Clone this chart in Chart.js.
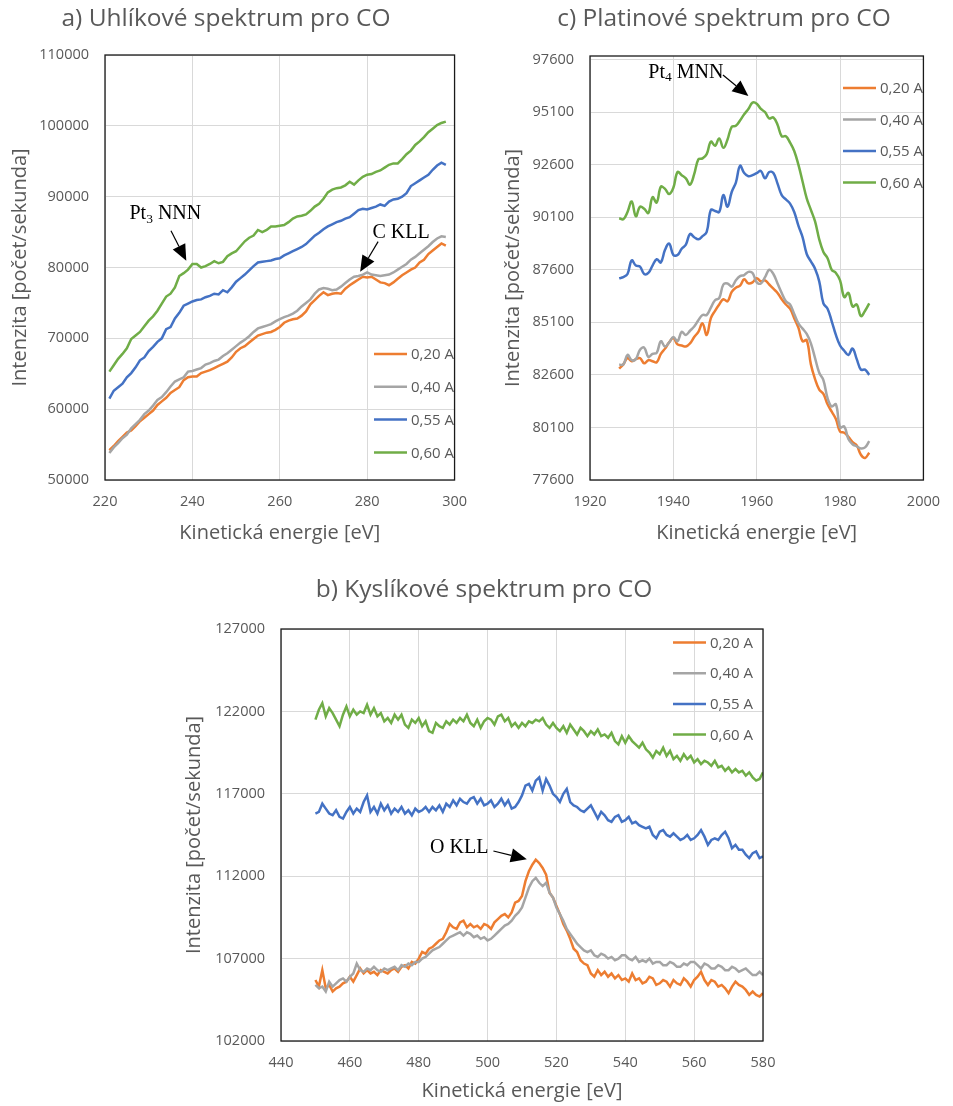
<!DOCTYPE html>
<html>
<head>
<meta charset="utf-8">
<title>Spektra pro CO</title>
<script src="https://cdn.jsdelivr.net/npm/chart.js@4.4.1/dist/chart.umd.min.js"></script>
<style>
  body { margin: 0; background: #fff; }
  #obal { position: relative; width: 953px; height: 1106px; }
  canvas { position: absolute; }
</style>
</head>
<body>
<div id="obal">
  <canvas id="grafA" width="480" height="560" style="left:0;top:0;width:480px;height:560px"></canvas>
  <canvas id="grafC" width="473" height="560" style="left:480px;top:0;width:473px;height:560px"></canvas>
  <canvas id="grafB" width="640" height="546" style="left:160px;top:560px;width:640px;height:546px"></canvas>
</div>
<script>
// nazvy serii a barvy (Excel)
var serie = ["0,20 A", "0,40 A", "0,55 A", "0,60 A"];
var barvy = ["#ED7D31", "#A5A5A5", "#4472C4", "#70AD47"];

// a) uhlikove spektrum, 221 .. 298 eV po 1 eV
var energieA = rozsah(221, 298);
var uhlik020 = [54200, 54800, 55500, 56100, 56700, 57000, 57600, 58300, 58800, 59300,
    59800, 60600, 61100, 61600, 62300, 62700, 63100, 64100, 64500, 64600,
    64600, 65100, 65300, 65500, 65800, 66100, 66400, 66700, 67300, 68100,
    68600, 68900, 69400, 69900, 70400, 70600, 70800, 70900, 71200, 71600,
    72200, 72500, 72700, 72800, 73200, 73800, 74800, 75400, 76000, 76500,
    76100, 76300, 76400, 76300, 77000, 77500, 77900, 78300, 78700, 78600,
    78700, 78300, 77900, 77800, 77500, 77900, 78400, 78900, 79300, 79700,
    80000, 80700, 81100, 81900, 82400, 82900, 83400, 83100];
var uhlik040 = [53800, 54600, 55200, 55900, 56400, 57300, 57900, 58500, 59300, 59800,
    60500, 61300, 61700, 62400, 63200, 63900, 64200, 64500, 65300, 65400,
    65600, 65800, 66300, 66500, 66800, 67000, 67500, 67900, 68400, 68900,
    69400, 69800, 70300, 70900, 71400, 71600, 71800, 72000, 72400, 72700,
    73000, 73200, 73500, 73900, 74500, 75000, 75500, 76300, 76900, 77100,
    77000, 76800, 76900, 77300, 77800, 78300, 78700, 78800, 79000, 79300,
    79000, 78900, 78800, 78900, 79000, 79300, 79700, 80100, 80500, 81100,
    81500, 82000, 82500, 83000, 83600, 84100, 84400, 84300];
var uhlik055 = [61500, 62600, 63100, 63600, 64500, 65100, 65900, 66900, 67300, 68200,
    68800, 69500, 70000, 71300, 71600, 72800, 73600, 74600, 74900, 75200,
    75400, 75500, 75800, 76000, 76300, 76200, 76800, 76500, 77200, 78000,
    78500, 79000, 79600, 80200, 80700, 80800, 80900, 81000, 81200, 81300,
    81700, 82000, 82300, 82600, 82900, 83300, 83900, 84500, 84900, 85400,
    85800, 86100, 86400, 86600, 86900, 87100, 87600, 88100, 88300, 88200,
    88400, 88600, 88900, 88700, 89300, 89600, 89700, 90000, 90500, 91500,
    91900, 92300, 92700, 93100, 93800, 94400, 94800, 94500];
var uhlik060 = [65300, 66200, 67100, 67800, 68600, 69900, 70400, 70900, 71700, 72500,
    73100, 73900, 74900, 75900, 76300, 77200, 78800, 79200, 79700, 80500,
    80500, 80000, 80200, 80500, 80900, 80600, 80800, 81600, 82000, 82300,
    83000, 83700, 84200, 84500, 85300, 85000, 85300, 85800, 85800, 85900,
    86000, 86400, 86900, 87200, 87300, 87500, 88000, 88600, 89000, 89700,
    90600, 91000, 91200, 91300, 91600, 92100, 91700, 92300, 92800, 93100,
    93200, 93500, 93700, 94100, 94500, 94700, 94700, 95300, 96000, 96500,
    97300, 97800, 98400, 99100, 99600, 100100, 100400, 100600];
var xTickyA = [220, 240, 260, 280, 300];
var yTickyA = [50000, 60000, 70000, 80000, 90000, 100000, 110000];

// c) platinove spektrum, 1927 .. 1987 eV po 1 eV
var energieC = rozsah(1927, 1987);
var platina020 = [82900, 83100, 83400, 83250, 83350, 83400, 83150, 83300, 83250, 83200,
    83600, 83850, 84150, 84350, 84050, 84000, 83950, 84100, 84400, 84650,
    85050, 84500, 85300, 85650, 85950, 86200, 86100, 86550, 86750, 86850,
    87150, 86950, 87000, 87200, 87050, 87100, 86900, 86700, 86500, 86200,
    85950, 85750, 85300, 84850, 84200, 84250, 83100, 82400, 81900, 81700,
    81200, 80850, 80500, 79900, 79850, 79650, 79400, 79250, 78800, 78650,
    78900];
var platina040 = [83080, 83100, 83550, 83300, 83350, 83800, 83900, 83450, 83600, 83650,
    84200, 83950, 84150, 84400, 84200, 84650, 84500, 84700, 84900, 85200,
    85450, 85450, 85800, 86150, 86250, 86900, 86950, 86800, 87100, 87300,
    87350, 87500, 87450, 87000, 86950, 87250, 87600, 87400, 86950, 86500,
    86100, 85950, 85500, 85050, 84800, 84550, 84100, 83400, 82700, 82350,
    81500, 81100, 81200, 80100, 80150, 79550, 79300, 79200, 79100, 79150,
    79450];
var platina055 = [87200, 87250, 87400, 88050, 87800, 87750, 87400, 87450, 87800, 88100,
    87950, 88550, 88850, 88300, 88300, 88600, 88800, 89300, 89150, 89050,
    89200, 89400, 90450, 90400, 90350, 91150, 90600, 91300, 91750, 92550,
    92200, 92050, 92100, 92200, 92300, 91950, 92250, 92200, 91700, 91150,
    90950, 90750, 90350, 89700, 89150, 88350, 88000, 87650, 87050, 86000,
    85750, 85150, 84500, 84000, 83750, 83550, 83850, 83350, 82850, 82850,
    82600];
var platina060 = [90050, 90000, 90350, 90850, 90150, 90600, 90500, 90300, 91050, 90800,
    91550, 91450, 91200, 91500, 92250, 92100, 91950, 91650, 92150, 92850,
    92900, 93100, 93700, 93500, 93850, 93400, 93800, 94400, 94450, 94700,
    95000, 95250, 95550, 95500, 95250, 95100, 94800, 94850, 94500, 93950,
    93950, 93650, 93250, 92600, 91800, 91000, 90450, 89900, 89050, 88450,
    88150, 87600, 87450, 87100, 86300, 86500, 85850, 85950, 85400, 85650,
    86000];
var xTickyC = [1920, 1940, 1960, 1980, 2000];
var yTickyC = [77600, 80100, 82600, 85100, 87600, 90100, 92600, 95100, 97600];

// b) kyslikove spektrum, 450 .. 580 eV po 1 eV
var energieB = rozsah(450, 580);
var kyslik020 = [105700, 105300, 106300, 105200, 105400, 105000, 105200, 105300, 105500, 105600,
    105900, 105600, 106000, 106400, 106100, 106300, 106100, 106200, 106000, 106300,
    106200, 106100, 106300, 106400, 106200, 106500, 106600, 106400, 106800, 106700,
    107000, 107400, 107300, 107600, 107700, 107900, 108100, 108200, 108600, 109100,
    108900, 108800, 109200, 109300, 108900, 109100, 108900, 109000, 108800, 109100,
    109000, 108800, 109200, 109400, 109600, 109700, 109500, 109800, 110400, 110500,
    110800, 111700, 112300, 112700, 113000, 112800, 112500, 112100, 111000, 110700,
    110200, 109700, 109100, 108700, 108200, 107600, 107400, 106900, 106700, 106600,
    106100, 105900, 106300, 106000, 106200, 105900, 106100, 105800, 106000, 105700,
    105800, 105600, 106100, 105700, 105800, 105500, 105600, 105900, 105800, 105400,
    105500, 105700, 105600, 105300, 105700, 105500, 105400, 105800, 105600, 105300,
    105700, 105900, 106200, 105700, 105400, 105700, 105600, 105300, 105400, 105200,
    104900, 105300, 105600, 105400, 105300, 105100, 104800, 105000, 104800, 104700,
    104900];
var kyslik040 = [105400, 105200, 105300, 105000, 105600, 105300, 105500, 105700, 105800, 105600,
    105900, 106100, 106700, 106300, 106200, 106400, 106300, 106500, 106300, 106200,
    106400, 106300, 106400, 106500, 106300, 106600, 106500, 106700, 106600, 106800,
    106800, 107000, 107100, 107300, 107500, 107600, 107700, 107900, 108100, 108300,
    108400, 108500, 108600, 108400, 108600, 108500, 108300, 108400, 108200, 108300,
    108100, 108200, 108400, 108600, 108800, 109000, 109100, 109300, 109600, 109800,
    110100, 110700, 111300, 111700, 111900, 111600, 111400, 111600, 111000, 110700,
    110100, 109700, 109300, 108800, 108500, 108200, 107900, 107700, 107500, 107400,
    107500, 107200, 107100, 107300, 107200, 107000, 107100, 106900, 107000, 107200,
    107200, 107000, 106900, 107100, 106800, 106900, 106800, 107000, 106700, 106800,
    106800, 106600, 106600, 106800, 106700, 106500, 106500, 106700, 106600, 106800,
    106800, 106600, 106400, 106700, 106600, 106400, 106400, 106600, 106500, 106300,
    106300, 106500, 106400, 106200, 106300, 106400, 106200, 106000, 106000, 106200,
    106000];
var kyslik055 = [115800, 115900, 116400, 116100, 115800, 115700, 116000, 115600, 115500, 115900,
    116200, 115800, 116100, 115900, 116500, 116900, 115900, 116200, 115800, 116400,
    116000, 116300, 115800, 116100, 115900, 116200, 115800, 116000, 115700, 116100,
    115900, 116000, 116200, 115900, 116200, 116000, 116300, 115900, 116400, 116200,
    116600, 116300, 116700, 116500, 116400, 116700, 116800, 116400, 116700, 116300,
    116400, 116600, 116200, 116400, 116700, 116300, 116600, 116100, 116200, 116500,
    116900, 117500, 117600, 117200, 117800, 118000, 117200, 117900, 117500, 117000,
    116800, 116500, 117000, 117300, 116500, 116300, 116200, 116000, 115900, 116100,
    116300, 115900, 115500, 115900, 115700, 115400, 115300, 115600, 115700, 115300,
    115400, 115600, 115200, 115300, 115100, 115000, 114900, 115000, 114500, 114300,
    114700, 114800, 114500, 114400, 114600, 114400, 114200, 114300, 114500, 114200,
    114300, 114500, 114800, 114400, 113900, 114200, 114300, 114200, 114500, 114700,
    114300, 113700, 113900, 113600, 113600, 113300, 113100, 113400, 113500, 113100,
    113200];
var kyslik060 = [121500, 122100, 122500, 121700, 122200, 121900, 121500, 121100, 121800, 122300,
    121700, 122100, 121800, 122000, 121900, 122400, 121800, 122200, 121700, 121900,
    121400, 121600, 121300, 121800, 121500, 121800, 121200, 121000, 121500, 121300,
    121600, 121100, 121400, 120800, 120700, 121300, 121100, 121000, 121400, 121200,
    121500, 121300, 121600, 121400, 121800, 121300, 121100, 121500, 121000, 121400,
    121600, 121500, 121200, 121700, 121800, 121400, 121600, 121100, 121300, 121000,
    121300, 121100, 121400, 121300, 121500, 121400, 121600, 121200, 121000, 121300,
    121000, 120800, 121100, 120700, 121200, 120900, 120600, 121000, 120800, 120500,
    120800, 120600, 120900, 120500, 120600, 120400, 120700, 120200, 120000, 120500,
    120100, 120500, 120200, 120000, 119800, 120100, 119700, 119500, 119200, 119600,
    119400, 119800, 119300, 119600, 119100, 119300, 119000, 119400, 119100, 119300,
    118900, 119100, 118800, 119000, 118900, 118700, 119000, 118600, 118700, 118400,
    118600, 118300, 118500, 118300, 118400, 118100, 118300, 118000, 117800, 117900,
    118300];
var xTickyB = [440, 460, 480, 500, 520, 540, 560, 580];
var yTickyB = [102000, 107000, 112000, 117000, 122000, 127000];

function rozsah(od, po) {
    var out = [];
    for (var e = od; e <= po; e++) out.push(e);
    return out;
}

function body(energie, hodnoty) {
    return energie.map(function (e, i) { return { x: e, y: hodnoty[i] }; });
}

// sipka s plnou hlavou
function sipka(ctx, x1, y1, x2, y2) {
    var a = Math.atan2(y2 - y1, x2 - x1);
    var delka = 16, sirka = 7;
    var bx = x2 - delka * Math.cos(a), by = y2 - delka * Math.sin(a);
    ctx.strokeStyle = "#000";
    ctx.fillStyle = "#000";
    ctx.lineWidth = 1.2;
    ctx.beginPath();
    ctx.moveTo(x1, y1);
    ctx.lineTo(bx, by);
    ctx.stroke();
    ctx.beginPath();
    ctx.moveTo(x2, y2);
    ctx.lineTo(bx + sirka * Math.sin(a), by - sirka * Math.cos(a));
    ctx.lineTo(bx - sirka * Math.sin(a), by + sirka * Math.cos(a));
    ctx.closePath();
    ctx.fill();
}

// ramecek, nadpis, legenda a popisky piku
var dekorace = {
    id: "dekorace",
    afterDraw: function (chart, args, opts) {
        var ctx = chart.ctx, ca = chart.chartArea;
        var sx = chart.scales.x, sy = chart.scales.y;
        ctx.save();

        ctx.strokeStyle = "#1a1a1a";
        ctx.lineWidth = 1.3;
        ctx.strokeRect(ca.left, ca.top, ca.right - ca.left, ca.bottom - ca.top);

        ctx.fillStyle = "#595959";
        ctx.font = '24.5px "Open Sans"';
        ctx.textAlign = "center";
        ctx.textBaseline = "middle";
        ctx.fillText(opts.nadpis, opts.nadpisX, opts.nadpisY);

        ctx.font = '15px "Open Sans"';
        ctx.textAlign = "left";
        chart.data.datasets.forEach(function (ds, i) {
            var y = opts.legendaY + i * opts.legendaKrok;
            ctx.strokeStyle = ds.borderColor;
            ctx.lineWidth = 2.5;
            ctx.beginPath();
            ctx.moveTo(opts.legendaX, y);
            ctx.lineTo(opts.legendaX + 33, y);
            ctx.stroke();
            ctx.fillStyle = "#595959";
            ctx.fillText(ds.label, opts.legendaX + 37, y + 1);
        });

        opts.popisky.forEach(function (p) {
            var x = sx.getPixelForValue(p.x), y = sy.getPixelForValue(p.y);
            ctx.fillStyle = "#000";
            ctx.textBaseline = "middle";
            ctx.font = '20px "Liberation Serif"';
            ctx.fillText(p.text, x, y);
            x += ctx.measureText(p.text).width;
            if (p.index) {
                ctx.font = '13.5px "Liberation Serif"';
                ctx.fillText(p.index, x, y + 5);
                x += ctx.measureText(p.index).width;
                ctx.font = '20px "Liberation Serif"';
                ctx.fillText(p.zbytek, x, y);
            }
            sipka(ctx, sx.getPixelForValue(p.odX), sy.getPixelForValue(p.odY),
                sx.getPixelForValue(p.doX), sy.getPixelForValue(p.doY));
        });
        ctx.restore();
    }
};

function vytvorGraf(id, nastaveni) {
    var font = { family: "Open Sans", size: 14.5 };
    var titulek = { family: "Open Sans", size: 20 };
    var datasets = nastaveni.hodnoty.map(function (h, i) {
        return {
            label: serie[i],
            data: body(nastaveni.energie, h),
            borderColor: barvy[i],
            backgroundColor: barvy[i],
            borderWidth: 2.5,
            pointRadius: 0,
            tension: nastaveni.tension,
            fill: false,
            order: 4 - i
        };
    });

    return new Chart(document.getElementById(id), {
        type: "line",
        data: { datasets: datasets },
        plugins: [dekorace],
        options: {
            responsive: false,
            animation: false,
            devicePixelRatio: 1,
            layout: { padding: nastaveni.padding },
            plugins: {
                legend: { display: false },
                tooltip: { enabled: false },
                dekorace: nastaveni.dekorace
            },
            scales: {
                x: {
                    type: "linear",
                    min: nastaveni.xMin,
                    max: nastaveni.xMax,
                    afterBuildTicks: function (s) { s.ticks = nastaveni.xTicky.map(function (v) { return { value: v }; }); },
                    ticks: { color: "#595959", font: font, padding: 13, maxRotation: 0, autoSkip: false,
                        callback: function (v) { return String(v); } },
                    grid: { color: "#D9D9D9", lineWidth: 1, drawTicks: false },
                    border: { display: false },
                    title: { display: true, text: "Kinetická energie [eV]", color: "#595959", font: titulek,
                        padding: { top: 0, bottom: nastaveni.xTitulekOdsazeni } },
                    afterFit: function (s) { s.height = nastaveni.xVyska; }
                },
                y: {
                    type: "linear",
                    min: nastaveni.yMin,
                    max: nastaveni.yMax,
                    afterBuildTicks: function (s) { s.ticks = nastaveni.yTicky.map(function (v) { return { value: v }; }); },
                    ticks: { color: "#595959", font: font, padding: 16, autoSkip: false,
                        callback: function (v) { return String(v); } },
                    grid: { color: "#D9D9D9", lineWidth: 1, drawTicks: false },
                    border: { display: false },
                    title: { display: true, text: "Intenzita [počet/sekunda]", color: "#595959", font: titulek,
                        padding: { top: nastaveni.yTitulekOdsazeni, bottom: 0 } },
                    afterFit: function (s) { s.width = nastaveni.ySirka; }
                }
            }
        }
    });
}

vytvorGraf("grafA", {
    energie: energieA,
    hodnoty: [uhlik020, uhlik040, uhlik055, uhlik060],
    tension: 0,
    xMin: 220, xMax: 300, xTicky: xTickyA,
    yMin: 50000, yMax: 110000, yTicky: yTickyA,
    padding: { left: 0, top: 55, right: 17, bottom: 0 },
    ySirka: 105, xVyska: 80, xTitulekOdsazeni: 15, yTitulekOdsazeni: 8,
    dekorace: {
        nadpis: "a) Uhlíkové spektrum pro CO", nadpisX: 226, nadpisY: 19,
        legendaX: 374, legendaY: 354, legendaKrok: 32.8,
        popisky: [
            { text: "Pt", index: "3", zbytek: " NNN", x: 225.6, y: 87550, odX: 235.1, odY: 85200, doX: 238.6, doY: 80960 },
            { text: "C KLL", x: 281.2, y: 84900, odX: 282.5, odY: 83650, doX: 278.4, doY: 79400 }
        ]
    }
});

vytvorGraf("grafC", {
    energie: energieC,
    hodnoty: [platina020, platina040, platina055, platina060],
    tension: 0.4,
    xMin: 1920, xMax: 2000, xTicky: xTickyC,
    yMin: 77600, yMax: 97770, yTicky: yTickyC,
    padding: { left: 0, top: 56, right: 20, bottom: 0 },
    ySirka: 110, xVyska: 80, xTitulekOdsazeni: 15, yTitulekOdsazeni: 21,
    dekorace: {
        nadpis: "c) Platinové spektrum pro CO", nadpisX: 244, nadpisY: 19,
        legendaX: 363, legendaY: 88, legendaKrok: 31.5,
        popisky: [
            { text: "Pt", index: "4", zbytek: " MNN", x: 1934.0, y: 96976, odX: 1951.9, odY: 96866, doX: 1958.0, doY: 95867 }
        ]
    }
});

vytvorGraf("grafB", {
    energie: energieB,
    hodnoty: [kyslik020, kyslik040, kyslik055, kyslik060],
    tension: 0,
    xMin: 440, xMax: 580, xTicky: xTickyB,
    yMin: 102000, yMax: 127000, yTicky: yTickyB,
    padding: { left: 0, top: 69, right: 37, bottom: 0 },
    ySirka: 121, xVyska: 65, xTitulekOdsazeni: 3, yTitulekOdsazeni: 22,
    dekorace: {
        nadpis: "b) Kyslíkové spektrum pro CO", nadpisX: 324, nadpisY: 30,
        legendaX: 513, legendaY: 82.5, legendaKrok: 30.7,
        popisky: [
            { text: "O KLL", x: 483.3, y: 113700, odX: 501.7, odY: 113530, doX: 511.4, doY: 113030 }
        ]
    }
});
</script>
</body>
</html>
